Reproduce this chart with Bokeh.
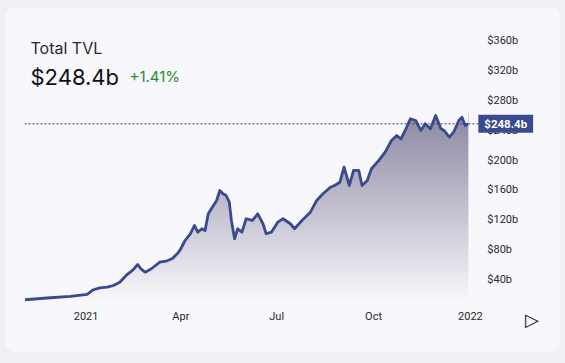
import numpy as np
import pandas as pd
from bokeh.plotting import figure
from bokeh.layouts import column
from bokeh.models import Label, FixedTicker, PrintfTickFormatter, Range1d
from bokeh.embed import file_html
from bokeh.resources import INLINE

# ---- data ----
dates = [
    "2020-11-04", "2020-11-28", "2020-12-17", "2021-01-02", "2021-01-08", "2021-01-14",
    "2021-01-21", "2021-01-27", "2021-02-02", "2021-02-08", "2021-02-14", "2021-02-19",
    "2021-02-22", "2021-02-26", "2021-03-04", "2021-03-12", "2021-03-18", "2021-03-24",
    "2021-03-29", "2021-03-31", "2021-04-05", "2021-04-10", "2021-04-14", "2021-04-17",
    "2021-04-21", "2021-04-24", "2021-04-27", "2021-04-30", "2021-05-05", "2021-05-08",
    "2021-05-11", "2021-05-14", "2021-05-17", "2021-05-19", "2021-05-22", "2021-05-25",
    "2021-05-29", "2021-06-02", "2021-06-08", "2021-06-13", "2021-06-18", "2021-06-21",
    "2021-06-26", "2021-07-02", "2021-07-07", "2021-07-14", "2021-07-18", "2021-07-25",
    "2021-08-02", "2021-08-08", "2021-08-14", "2021-08-21", "2021-08-25", "2021-08-30",
    "2021-09-03", "2021-09-08", "2021-09-12", "2021-09-17", "2021-09-20", "2021-09-25",
    "2021-09-29", "2021-10-06", "2021-10-12", "2021-10-18", "2021-10-23", "2021-10-27",
    "2021-10-31", "2021-11-05", "2021-11-10", "2021-11-15", "2021-11-19", "2021-11-24",
    "2021-11-29", "2021-12-04", "2021-12-07", "2021-12-12", "2021-12-16", "2021-12-21",
    "2021-12-24", "2021-12-27", "2021-12-30",
]
tvl_b = [
    13.0, 15.7, 17.4, 20.1, 26.4, 29.0,
    29.8, 32.1, 36.5, 45.5, 52.2, 60.2,
    54.5, 49.9, 54.5, 63.3, 64.6, 68.2,
    75.3, 78.9, 92.3, 101.3, 112.4, 103.4,
    108.0, 105.7, 128.0, 134.7, 145.8, 159.2,
    154.8, 152.5, 143.6, 119.1, 94.6, 108.0,
    103.4, 121.4, 119.1, 128.0, 114.7, 101.3,
    103.4, 116.8, 121.4, 114.7, 108.0, 119.1,
    130.2, 145.8, 154.8, 163.6, 165.9, 170.3,
    190.4, 165.9, 186.0, 186.0, 165.9, 172.6,
    188.3, 199.4, 210.5, 226.1, 232.8, 228.4,
    239.5, 255.2, 252.9, 239.5, 248.5, 241.8,
    259.6, 241.8, 239.5, 230.5, 237.2, 252.9,
    257.3, 246.2, 248.4,
]
x_tick_dates = ["2021-01-01", "2021-04-01", "2021-07-01", "2021-10-01", "2022-01-01"]
x_tick_labels = ["2021", "Apr", "Jul", "Oct", "2022"]
y_ticks = [40, 80, 120, 160, 200, 240, 280, 320, 360]
title_text = "Total TVL"
current_tvl = 248.4
change_pct = 1.41

# ---- styling ----
PAGE = "#eef0f6"
CARD = "#f8f8fc"
LINE = "#394a8f"
TOP_RGB = np.array([138, 134, 162])
BOT_RGB = np.array([247, 246, 249])

x = pd.to_datetime(dates)
y = np.array(tvl_b)

# view window (frame spans nearly the whole card; axes sit at fixed positions)
x_start = pd.Timestamp("2020-11-03 12:00")
x_axis_at = pd.Timestamp("2022-01-08 12:00")   # where the value axis sits
x_end = pd.Timestamp("2022-03-22 19:00")
y_base = 12            # where the time axis sits
y_lo, y_hi = -50.9, 380

fig = figure(width=555, height=345, x_axis_type="datetime",
             x_range=Range1d(x_start, x_end), y_range=Range1d(y_lo, y_hi),
             output_backend="svg", toolbar_location=None, y_axis_location="right",
             min_border_left=19, min_border_right=5, min_border_top=18, min_border_bottom=5,
             margin=(7, 5, 11, 5), styles={"border-radius": "10px", "overflow": "hidden"})
fig.background_fill_color = CARD
fig.border_fill_color = CARD
fig.outline_line_color = None
fig.grid.visible = False

# gradient fill under line: stacked bands, then mask above the line
top_v = float(y.max()) + 4
edges = np.linspace(y_base, top_v, 61)
cols = []
for k in range(len(edges) - 1):
    t = (edges[k] - y_base) / (top_v - y_base)
    c = BOT_RGB + (TOP_RGB - BOT_RGB) * t
    cols.append("#%02x%02x%02x" % tuple(int(round(v)) for v in c))
fig.quad(left=x[0], right=x[-1], bottom=edges[:-1], top=edges[1:] + 1.5,
         fill_color=cols, line_color=None)
fig.varea(x=x, y1=y, y2=y_hi, fill_color=CARD)
fig.line(x=x, y=y, line_color=LINE, line_width=2.8, line_join="round")

# current value marker line
fig.segment(x0=[x_start], y0=[current_tvl], x1=[x_axis_at], y1=[current_tvl],
            line_color="#3a3f5c", line_dash="2 2", line_width=1)

# axes
xt = [pd.Timestamp(d).value / 1e6 for d in x_tick_dates]
fig.xaxis.ticker = FixedTicker(ticks=xt)
fig.xaxis.major_label_overrides = {t: l for t, l in zip(xt, x_tick_labels)}
fig.xaxis.fixed_location = y_base
fig.yaxis.ticker = FixedTicker(ticks=y_ticks)
fig.yaxis.formatter = PrintfTickFormatter(format="$%db")
fig.yaxis.fixed_location = x_axis_at.value / 1e6
for ax in (fig.xaxis[0], fig.yaxis[0]):
    ax.axis_line_color = None
    ax.major_tick_line_color = None
    ax.minor_tick_line_color = None
    ax.major_tick_out = 0
    ax.major_tick_in = 0
    ax.minor_tick_out = 0
    ax.minor_tick_in = 0
    ax.major_label_text_color = "#2a2a2a"
    ax.major_label_text_font = "Roboto"
    ax.major_label_text_font_size = "11px"
fig.xaxis.major_label_standoff = 10
fig.yaxis.major_label_standoff = 9

# value box on the axis
fig.add_layout(Label(x=x_axis_at.value / 1e6, y=current_tvl, x_offset=0,
                     text="$%.1fb" % current_tvl,
                     text_align="left", text_baseline="middle",
                     text_color="white", text_font="Roboto", text_font_style="bold",
                     text_font_size="11.5px", background_fill_color="#3a4a8e",
                     padding=(6, 2)))

# header texts
fig.add_layout(Label(x=6, y=300, x_units="screen", y_units="screen", text=title_text,
                     text_font="Inter", text_font_size="16px", text_color="#2b2b2b",
                     text_baseline="alphabetic"))
fig.add_layout(Label(x=6, y=271, x_units="screen", y_units="screen",
                     text="$%.1fb" % current_tvl, text_font="Inter",
                     text_font_size="22px", text_color="#111111", text_baseline="alphabetic"))
fig.add_layout(Label(x=105, y=271, x_units="screen", y_units="screen",
                     text="+%.2f%%" % change_pct, text_font="Inter",
                     text_font_size="15px", text_color="#1f8b2c", text_baseline="alphabetic"))
# play icon
fig.add_layout(Label(x=507.5, y=28, x_units="screen", y_units="screen", text="\u25b7",
                     text_font="DejaVu Sans", text_font_size="18px", text_align="center",
                     text_color="#111111", text_baseline="middle"))

p = column(fig, styles={"background-color": PAGE})

open("out.html", "w").write(file_html(p, INLINE))
